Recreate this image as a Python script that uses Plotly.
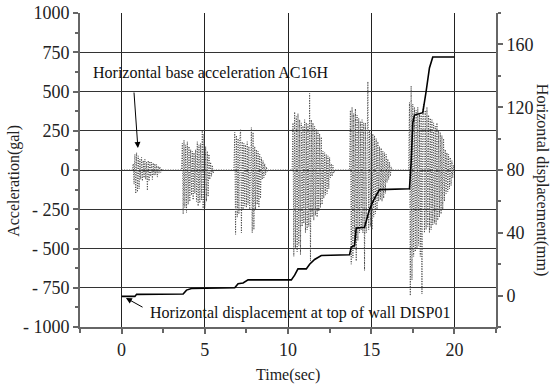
import numpy as np
import plotly.graph_objects as go

# ---------------- data ----------------
# acceleration bursts: (start time [s], sample step [s], values [gal])
burst1_start, burst1_dt = 0.65, 0.05
burst1 = [0, 40, -90, 100, -150, 110, -140, 90, -120, 70, -60, 80, -70, 60, -50, 70, -60, 50,
          -130, 60, -70, 55, -40, 50, -60, 45, -35, 40, -30, 35, -45, 25, -20, 20, -15, 10, -5, 0]
burst2_start, burst2_dt = 3.6, 0.05
burst2 = [0, 170, -280, 190, -240, 160, -270, 180, -220, 150, -200, 130, -160, 120, -190, 110,
          -150, 130, -200, 180, -230, 160, -210, 170, -190, 250, -260, 230, -240, 150, -200, 120,
          -170, 100, -60, 50, -40, 30, -20, 0]
burst3_start, burst3_dt = 6.75, 0.05
burst3 = [0, 240, -410, 220, -300, 200, -280, 190, 260, -400, 180, -250, 170, -230, 160, -240,
          180, -220, 150, -250, 170, 270, -400, 240, -380, 150, -250, 130, -220, 120, -240, 100,
          -180, 80, -60, 60, -50, 40, -30, 20, -10, 0]
burst4_start, burst4_dt = 10.25, 0.05
burst4 = [0, 300, -550, 370, -500, 340, -520, 360, -480, 320, -540, 300, -360, 280, -340, 320,
          -400, 300, -380, 290, -360, 488, -580, 320, -300, 300, -320, 280, -290, 260, -300, 250,
          -260, 230, -240, 210, -220, 120, -180, 110, -160, 100, -150, 90, -120, 80, -50, 40,
          -40, 30, -20, 0]
burst5_start, burst5_dt = 13.7, 0.05
burst5 = [0, 380, -600, 400, -560, 360, -500, 390, -580, 350, -450, 330, -400, 310, -380, 320,
          -400, 300, -640, 300, -400, 280, 563, -380, 250, -360, 240, -380, 230, -300, 220, -280,
          200, -250, 180, -200, 150, -190, 140, -200, 120, -180, 110, -150, 100, -80, 70, -60,
          50, -40, 20, 0]
burst6_start, burst6_dt = 17.25, 0.05
burst6 = [0, 430, -800, 535, -700, 420, -550, 400, -520, 380, -500, 400, -480, 360, -550, 350,
          -790, 380, 420, -400, 380, -380, 400, -360, 350, -400, 330, -380, 320, -350, 300, -340,
          280, -350, 300, -320, 250, -300, 240, -280, 220, -250, 200, -200, 130, -150, 110, -140,
          100, -120, 80, -100, 60, -50, 30, 0]

# horizontal displacement at top of wall [mm]
disp_t = [0.0, 0.8, 0.9, 3.7, 3.9, 4.2, 6.8, 7.0, 7.3, 7.6, 10.2, 10.4, 10.6, 11.1, 11.3, 11.6,
          12.0, 13.7, 13.8, 14.0, 14.1, 14.6, 14.9, 15.2, 15.5, 17.3, 17.4, 17.5, 17.6, 18.1,
          18.3, 18.5, 18.7, 20.0]
disp_v = [-0.5, -0.5, 0.8, 1.0, 3.5, 4.5, 5.0, 7.5, 8.0, 10.0, 10.0, 13.0, 17.0, 17.0, 20.0,
          23.0, 25.5, 26.0, 31.0, 32.0, 43.0, 43.5, 55.0, 62.0, 67.5, 68.0, 85.0, 110.0, 115.0,
          116.5, 130.0, 145.0, 152.0, 152.0]

x_ticks = [0, 5, 10, 15, 20]
acc_ticks = [-1000, -750, -500, -250, 0, 250, 500, 750, 1000]
acc_ticktext = ["- 1000", "- 750", "- 500", "- 250", "0", "250", "500", "750", "1000"]
disp_ticks = [0, 40, 80, 120, 160]

# ---------------- build acceleration series ----------------
bursts = [(burst1_start, burst1_dt, burst1), (burst2_start, burst2_dt, burst2),
          (burst3_start, burst3_dt, burst3), (burst4_start, burst4_dt, burst4),
          (burst5_start, burst5_dt, burst5), (burst6_start, burst6_dt, burst6)]
acc_t = [0.0]
acc_v = [0.0]
for s, dt, vals in bursts:
    acc_t += [s + i * dt for i in range(len(vals))]
    acc_v += vals
acc_t.append(20.0)
acc_v.append(0.0)

FONT = "Liberation Serif, Times New Roman, serif"
TXT = "#222222"
AX = "#666666"

fig = go.Figure()
fig.add_trace(go.Scatter(x=acc_t, y=acc_v, mode="lines",
                         line=dict(color="#444444", width=1, dash="1px,1.5px"),
                         showlegend=False, hoverinfo="skip"))
fig.add_trace(go.Scatter(x=disp_t, y=disp_v, mode="lines", yaxis="y2",
                         line=dict(color="black", width=1.6),
                         showlegend=False, hoverinfo="skip"))

fig.update_layout(
    width=552, height=386,
    margin=dict(l=80, r=56, t=13, b=59, autoexpand=False),
    paper_bgcolor="white", plot_bgcolor="white",
    font=dict(family=FONT, color=TXT, size=18),
    xaxis=dict(range=[-2.5, 22.5], tickvals=x_ticks, showgrid=True, gridcolor="#222222",
               gridwidth=1, zeroline=False, showline=True, linecolor=AX, linewidth=2,
               ticks="outside", ticklen=5, tickcolor=AX, tickwidth=1.5, automargin=False,
               minor=dict(dtick=2.5, tick0=0, ticks="outside", ticklen=4, tickcolor=AX,
                          showgrid=False),
               tickfont=dict(size=18, family=FONT, color=TXT)),
    yaxis=dict(range=[-1000, 1000], tickvals=acc_ticks, ticktext=acc_ticktext,
               showgrid=True, gridcolor="#333333", gridwidth=1, zeroline=False,
               showline=True, linecolor=AX, linewidth=2, automargin=False,
               ticks="outside", ticklen=5, tickcolor=AX, tickwidth=1.5,
               minor=dict(dtick=125, tick0=0, ticks="outside", ticklen=3, tickcolor=AX,
                          showgrid=False),
               tickfont=dict(size=18, family=FONT, color=TXT)),
    yaxis2=dict(range=[-20, 180], tickvals=disp_ticks, overlaying="y", side="right",
                showgrid=False, zeroline=False, showline=True, linecolor=AX, automargin=False,
                linewidth=2, ticks="outside", ticklen=5, tickcolor=AX, tickwidth=1.5,
                minor=dict(dtick=20, tick0=0, ticks="outside", ticklen=3, tickcolor=AX),
                tickfont=dict(size=18, family=FONT, color=TXT)),
)

ann_font = dict(family=FONT, size=16, color="#111111")
fig.add_annotation(x=0.98, y=140, ax=0.74, ay=503, xref="x", yref="y", axref="x", ayref="y",
                   showarrow=True, arrowhead=2, arrowsize=1.2, arrowwidth=1, arrowcolor="black",
                   text="")
fig.add_annotation(x=-1.85, y=624, xref="x", yref="y", text="Horizontal base acceleration AC16H",
                   showarrow=False, xanchor="left", yanchor="middle", font=ann_font)
fig.add_annotation(x=0.26, y=-815, ax=1.35, ay=-879, xref="x", yref="y", axref="x", ayref="y",
                   showarrow=True, arrowhead=2, arrowsize=1.2, arrowwidth=1, arrowcolor="black",
                   text="")
fig.add_annotation(x=1.59, y=-911, xref="x", yref="y",
                   text="Horizontal displacement at top of wall DISP01",
                   showarrow=False, xanchor="left", yanchor="middle", font=ann_font)

# axis titles
fig.add_annotation(x=-0.159, y=0.465, xref="paper", yref="paper", text="Acceleration(gal)",
                   textangle=-90, showarrow=False, xanchor="center", yanchor="middle",
                   font=dict(family=FONT, size=16, color=TXT))
fig.add_annotation(x=1.111, y=0.468, xref="paper", yref="paper",
                   text="Horizontal displacement(mm)", textangle=90, showarrow=False,
                   xanchor="center", yanchor="middle",
                   font=dict(family=FONT, size=16, color=TXT))
fig.add_annotation(x=0.5, y=-0.153, xref="paper", yref="paper", text="Time(sec)",
                   showarrow=False, xanchor="center", yanchor="middle",
                   font=dict(family=FONT, size=16, color=TXT))

fig.write_html("out.html")
